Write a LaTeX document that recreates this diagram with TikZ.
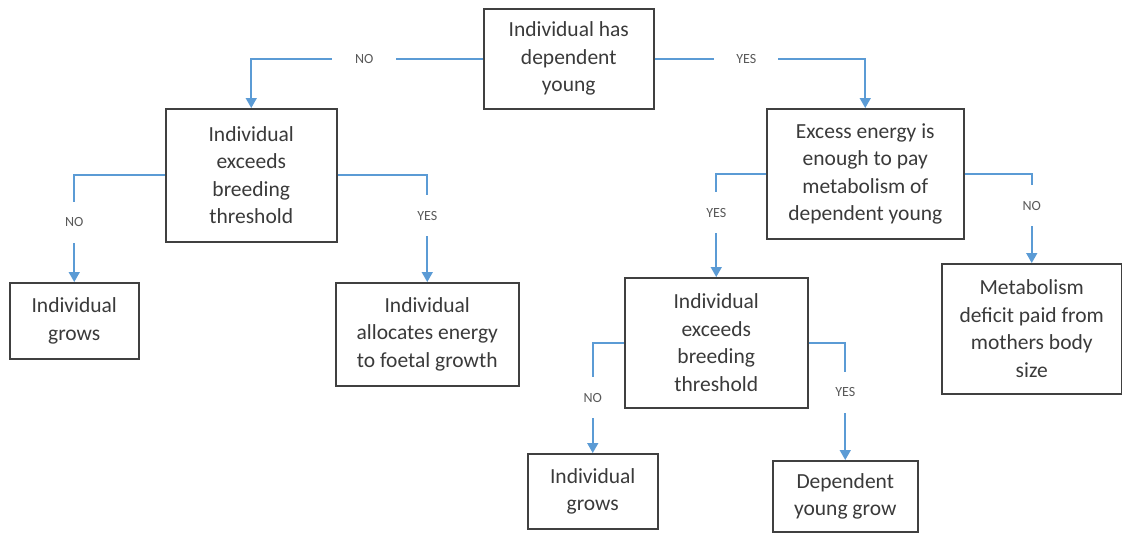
\documentclass[tikz,border=0pt]{standalone}
\usepackage{fontspec}
\setmainfont{Carlito}
\usepackage{xcolor}
\usepackage{tikz}
\usetikzlibrary{arrows.meta}
\definecolor{linkblue}{HTML}{5B9BD5}
\definecolor{boxtext}{HTML}{3A3A3A}
\tikzstyle{process} = [rectangle, anchor=north west, inner sep=0pt, align=center, draw=black!75, line width=1.5pt, text=boxtext, font=\fontsize{21.5}{27.5}\selectfont]
\tikzstyle{arrow}   = [draw=linkblue, line width=1.6pt, -{Triangle[width=11pt,length=10pt]}]
\tikzstyle{answer}  = [fill=white, inner sep=0pt, text=black!65, font=\fontsize{14}{14}\selectfont]
\tikzstyle{hgap}    = [answer, minimum width=64pt, minimum height=14pt]
\tikzstyle{vgap}    = [answer, minimum width=24pt, minimum height=41pt]

\begin{document}
\begin{tikzpicture}[x=1pt, y=-1pt]
    \useasboundingbox (0,0) rectangle (1122,533);

    \node (root)   [process, minimum width=170pt, minimum height=100pt] at (483,8)   {Individual has\\dependent\\young};
    \node (breedA) [process, minimum width=171pt, minimum height=133pt] at (165,108) {Individual\\exceeds\\breeding\\threshold};
    \node (excess) [process, minimum width=197pt, minimum height=130pt] at (766,108) {Excess energy is\\enough to pay\\metabolism of\\dependent young};
    \node (growA)  [process, minimum width=129pt, minimum height=76pt]  at (9,282)   {Individual\\grows};
    \node (foetal) [process, minimum width=183pt, minimum height=103pt] at (335,282) {Individual\\allocates energy\\to foetal growth};
    \node (breedB) [process, minimum width=183pt, minimum height=130pt] at (624,277) {Individual\\exceeds\\breeding\\threshold};
    \node (deficit)[process, minimum width=180pt, minimum height=130pt] at (941,263) {Metabolism\\deficit paid from\\mothers body\\size};
    \node (growB)  [process, minimum width=130pt, minimum height=75pt]  at (527,453) {Individual\\grows};
    \node (young)  [process, minimum width=145pt, minimum height=71pt]  at (772,460) {Dependent\\young grow};

    \draw [arrow] (root.west)   -| node [hgap, pos=0.256] {NO}  (breedA.north);
    \draw [arrow] (root.east)   -| node [hgap, pos=0.218] {YES} (excess.north);

    \draw [arrow] (breedA.west) -| node [vgap, pos=0.72] {NO}  (growA.north);
    \draw [arrow] (breedA.east) -| node [vgap, pos=0.69] {YES} (foetal.north);

    \draw [arrow] (excess.west) -| node [vgap, pos=0.69] {YES} (breedB.north);
    \draw [arrow] (excess.east) -| node [vgap, pos=0.68] {NO}  (deficit.north);

    \draw [arrow] (breedB.west) -| node [vgap, pos=0.75] {NO}  (growB.north);
    \draw [arrow] (breedB.east) -| node [vgap, pos=0.71] {YES} (young.north);

\end{tikzpicture}
\end{document}
